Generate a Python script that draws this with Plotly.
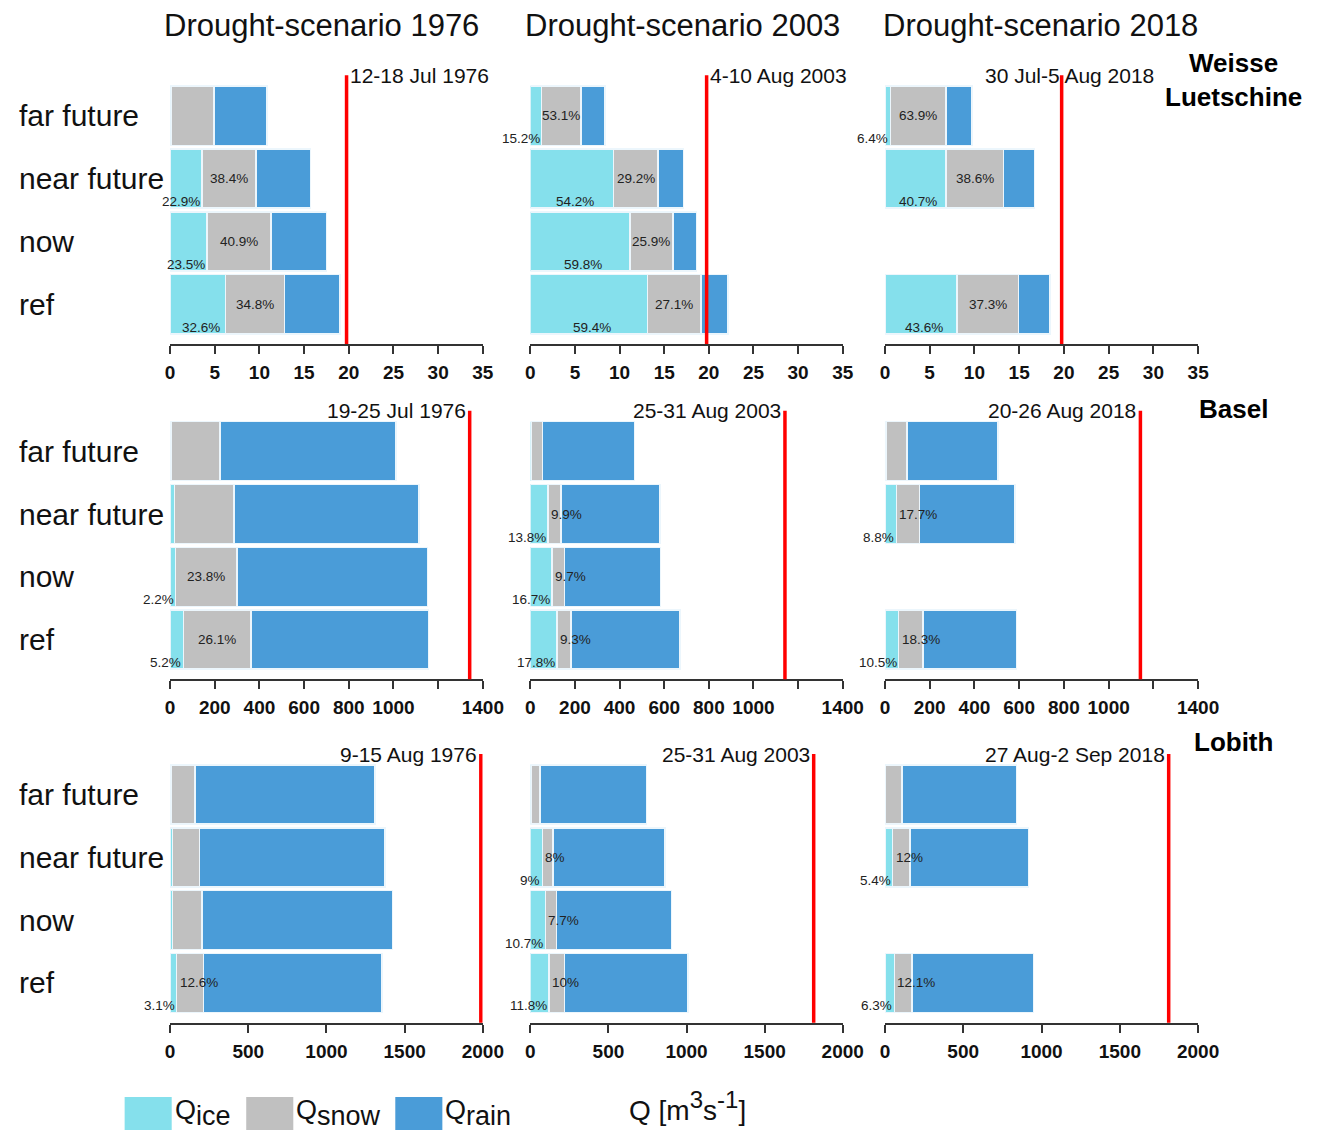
import plotly.graph_objects as go

W, H = 1342, 1130

periods = ["far future", "near future", "now", "ref"]
scenarios = ["1976", "2003", "2018"]
stations = ["Weisse<br>Luetschine", "Basel", "Lobith"]

# Weekly mean discharge [m3/s] per period; inner lists follow `periods`,
# outer lists follow `scenarios`. None = no simulation for that period.
q_total_wl = [[10.83, 15.7, 17.5, 19.0], [8.35, 17.17, 18.64, 22.12], [9.72, 16.73, None, 18.45]]
q_total_basel = [[1011, 1115, 1153, 1156], [466, 580, 584, 671], [505, 582, None, 588]]
q_total_lobith = [[1312, 1373, 1421, 1356], [743, 862, 904, 1010], [841, 916, None, 948]]

# Share of ice melt in discharge [%]
ice_share_wl = [[1.6, 22.9, 23.5, 32.6], [15.2, 54.2, 59.8, 59.4], [6.4, 40.7, None, 43.6]]
ice_share_basel = [[0.4, 1.7, 2.2, 5.2], [1.2, 13.8, 16.7, 17.8], [1.0, 8.8, None, 10.5]]
ice_share_lobith = [[0.4, 1.2, 1.1, 3.1], [0.6, 9, 10.7, 11.8], [0.5, 5.4, None, 6.3]]

# Share of snow melt in discharge [%]
snow_share_wl = [[44.0, 38.4, 40.9, 34.8], [53.1, 29.2, 25.9, 27.1], [63.9, 38.6, None, 37.3]]
snow_share_basel = [[21.8, 24.0, 23.8, 26.1], [10.5, 9.9, 9.7, 9.3], [18.7, 17.7, None, 18.3]]
snow_share_lobith = [[11.7, 12.6, 13.2, 12.6], [7.7, 8, 7.7, 10], [12.3, 12, None, 12.1]]

# Which bars carry percentage labels (1 = labelled)
labelled_wl = [[0, 1, 1, 1], [1, 1, 1, 1], [1, 1, 0, 1]]
labelled_basel = [[0, 0, 1, 1], [0, 1, 1, 1], [0, 1, 0, 1]]
labelled_lobith = [[0, 0, 0, 1], [0, 1, 1, 1], [0, 1, 0, 1]]

# Observed low-flow week of each drought scenario and its discharge [m3/s]
drought_week_wl = ["12-18 Jul 1976", "4-10 Aug 2003", "30 Jul-5 Aug 2018"]
drought_week_basel = ["19-25 Jul 1976", "25-31 Aug 2003", "20-26 Aug 2018"]
drought_week_lobith = ["9-15 Aug 1976", "25-31 Aug 2003", "27 Aug-2 Sep 2018"]
q_obs_wl = [19.75, 19.75, 19.75]
q_obs_basel = [1341, 1141, 1142]
q_obs_lobith = [1987, 1814, 1812]

# Axis ticks per station (labelled ticks and unlabelled ticks)
ticks_wl = [0, 5, 10, 15, 20, 25, 30, 35]
ticks_basel = [0, 200, 400, 600, 800, 1000, 1400]
ticks_lobith = [0, 500, 1000, 1500, 2000]
xmax_wl, xmax_basel, xmax_lobith = 35, 1400, 2000
unlabelled_ticks_basel = [1200]

q_total = [q_total_wl, q_total_basel, q_total_lobith]
ice_share = [ice_share_wl, ice_share_basel, ice_share_lobith]
snow_share = [snow_share_wl, snow_share_basel, snow_share_lobith]
labelled = [labelled_wl, labelled_basel, labelled_lobith]
drought_week = [drought_week_wl, drought_week_basel, drought_week_lobith]
q_obs = [q_obs_wl, q_obs_basel, q_obs_lobith]
tick_vals = [ticks_wl, ticks_basel, ticks_lobith]
x_max = [xmax_wl, xmax_basel, xmax_lobith]
extra_ticks = [[], unlabelled_ticks_basel, []]

C_ICE, C_SNOW, C_RAIN = "#85E0EC", "#C0C0C0", "#4A9CD8"
EDGE = "rgba(236,246,252,1)"
FONT = "Liberation Sans, Arial, sans-serif"
TXT = "#111111"

# panel geometry in pixels
col_left = [168.3, 535.7, 897.3]
col_right = [487.3, 854.3, 1216.7]
row_top = [84.3, 419.8, 763.1]
row_bottom = [344.0, 679.3, 1022.7]
cat_order = list(reversed(periods))  # bottom-up
LINE_TOP = 1.035


def px(x):
    return x / W


def py(y):
    return 1 - y / H


def text_width(s, fs):
    w = 0
    for c in s:
        w += 0.556 if c.isdigit() else (0.278 if c == "." else 0.889)
    return w * fs


def axis_ids(n):
    suffix = "" if n == 1 else str(n)
    return f"x{suffix}", f"y{suffix}", f"xaxis{suffix}", f"yaxis{suffix}"


fig = go.Figure()
annotations = []
shapes = []
LBL_FS = 13.5
lbl_font = dict(size=LBL_FS, color="#222", family=FONT)

for r in range(3):
    xmax = x_max[r]
    ppu = (col_right[0] - col_left[0]) / xmax
    for c in range(3):
        n = r * 3 + c + 1
        xa, ya, xkey, ykey = axis_ids(n)
        cats, ice, snow, rain = [], [], [], []
        for i, p in enumerate(periods):
            tot = q_total[r][c][i]
            if tot is None:
                continue
            qi = tot * ice_share[r][c][i] / 100
            qs = tot * snow_share[r][c][i] / 100
            cats.append(p)
            ice.append(qi)
            snow.append(qs)
            rain.append(tot - qi - qs)
            if labelled[r][c][i]:
                t_ice = f"{ice_share[r][c][i]:g}%"
                t_snow = f"{snow_share[r][c][i]:g}%"
                if text_width(t_ice, LBL_FS) <= qi * ppu:
                    annotations.append(dict(x=qi / 2, y=p, xref=xa, yref=ya, text=t_ice,
                                            xanchor="center", yanchor="middle", xshift=3, yshift=-23,
                                            showarrow=False, font=lbl_font))
                else:
                    annotations.append(dict(x=qi, y=p, xref=xa, yref=ya, text=t_ice,
                                            xanchor="right", yanchor="middle", yshift=-23,
                                            showarrow=False, font=lbl_font))
                if text_width(t_snow, LBL_FS) <= qs * ppu:
                    annotations.append(dict(x=qi + qs / 2, y=p, xref=xa, yref=ya, text=t_snow,
                                            xanchor="center", yanchor="middle",
                                            showarrow=False, font=lbl_font))
                else:
                    annotations.append(dict(x=qi, y=p, xref=xa, yref=ya, text=t_snow,
                                            xanchor="left", yanchor="middle", xshift=1,
                                            showarrow=False, font=lbl_font))
        for vals, col, name in [(ice, C_ICE, "ice"), (snow, C_SNOW, "snow"), (rain, C_RAIN, "rain")]:
            fig.add_trace(go.Bar(x=vals, y=cats, orientation="h", xaxis=xa, yaxis=ya, name=name,
                                 marker=dict(color=col, line=dict(color=EDGE, width=1.5)),
                                 showlegend=False, hoverinfo="x+y"))

        xaxis = dict(domain=[px(col_left[c]), px(col_right[c])], anchor=ya, range=[0, xmax],
                     tickmode="array", tickvals=tick_vals[r], ticks="outside", ticklen=8,
                     tickwidth=2, tickcolor="#333", showline=True, linewidth=2, linecolor="#333",
                     showgrid=False, zeroline=False, ticklabelstandoff=2,
                     tickfont=dict(size=19, color="#111", family=FONT, weight="bold"))
        if extra_ticks[r]:
            xaxis["minor"] = dict(tickmode="array", tickvals=extra_ticks[r], ticks="outside", ticklen=8,
                                  tickwidth=2, tickcolor="#333", showgrid=False)
        fig.update_layout(**{
            xkey: xaxis,
            ykey: dict(domain=[py(row_bottom[r]), py(row_top[r])], anchor=xa, type="category",
                       categoryorder="array", categoryarray=cat_order, range=[-0.632, 3.5],
                       showticklabels=False, ticks="", showline=False, showgrid=False,
                       zeroline=False),
        })

        # observed drought discharge
        thr = q_obs[r][c]
        shapes.append(dict(type="line", xref=xa, yref=f"{ya} domain", x0=thr, x1=thr, y0=0, y1=LINE_TOP,
                           line=dict(color="#FF0000", width=3.5)))
        if r == 0 and c < 2:
            lab = dict(xanchor="left", xshift=1)
        elif r == 0:
            lab = dict(xanchor="center", xshift=8)
        else:
            lab = dict(xanchor="right", xshift=-2)
        annotations.append(dict(x=thr, y=LINE_TOP, xref=xa, yref=f"{ya} domain", text=drought_week[r][c],
                                yanchor="middle", showarrow=False,
                                font=dict(size=21, color=TXT, family=FONT), **lab))

    # period labels at the left of each row
    ya_row = axis_ids(r * 3 + 1)[1]
    for p in periods:
        annotations.append(dict(x=px(12), y=p, xref="paper", yref=ya_row, text=p,
                                xanchor="left", yanchor="middle", showarrow=False,
                                font=dict(size=30, color=TXT, family=FONT)))

# scenario titles
title_x = [322.5, 691, 1055.5]
for c, s in enumerate(scenarios):
    annotations.append(dict(x=px(title_x[c]), y=py(25), xref="paper", yref="paper",
                            text=f"Drought-scenario {s}", xanchor="center", yanchor="middle",
                            showarrow=False, font=dict(size=31, color=TXT, family=FONT)))

# station names
station_y = [80, 409, 742]
for r, s in enumerate(stations):
    annotations.append(dict(x=px(1253), y=py(station_y[r]), xref="paper", yref="paper", text=s,
                            xanchor="center", yanchor="middle", align="center", showarrow=False,
                            font=dict(size=26, color="#000", family=FONT, weight="bold")))

# legend: swatches with full-size subscripts
LEG_FS = 27
legend_x = [122, 246, 398]
legend_w = 48
legend_items = [(C_ICE, "ice"), (C_SNOW, "snow"), (C_RAIN, "rain")]
for x0, (col, comp) in zip(legend_x, legend_items):
    shapes.append(dict(type="rect", xref="paper", yref="paper", x0=px(x0), x1=px(x0 + legend_w),
                       y0=py(1130), y1=py(1097), fillcolor=col, line=dict(width=0)))
    txt = f"Q<sub><span style='font-size:{LEG_FS}px'>{comp}</span></sub>"
    annotations.append(dict(x=px(x0 + legend_w + 1), y=py(1113), xref="paper", yref="paper", text=txt,
                            xanchor="left", yanchor="middle", showarrow=False,
                            font=dict(size=LEG_FS, color=TXT, family=FONT)))

# shared x-axis title
annotations.append(dict(x=px(696), y=py(1106), xref="paper", yref="paper",
                        text="Q [m<sup><span style='font-size:24px'>3</span></sup>s"
                             "<sup><span style='font-size:24px'>-1</span></sup>]",
                        xanchor="center", yanchor="middle",
                        showarrow=False, font=dict(size=28, color=TXT, family=FONT)))

fig.update_layout(width=W, height=H, autosize=False, margin=dict(l=0, r=0, t=0, b=0),
                  barmode="stack", bargap=0.06, plot_bgcolor="white", paper_bgcolor="white",
                  showlegend=False, annotations=annotations, shapes=shapes,
                  font=dict(family=FONT, color=TXT))

fig.write_html("out.html")
